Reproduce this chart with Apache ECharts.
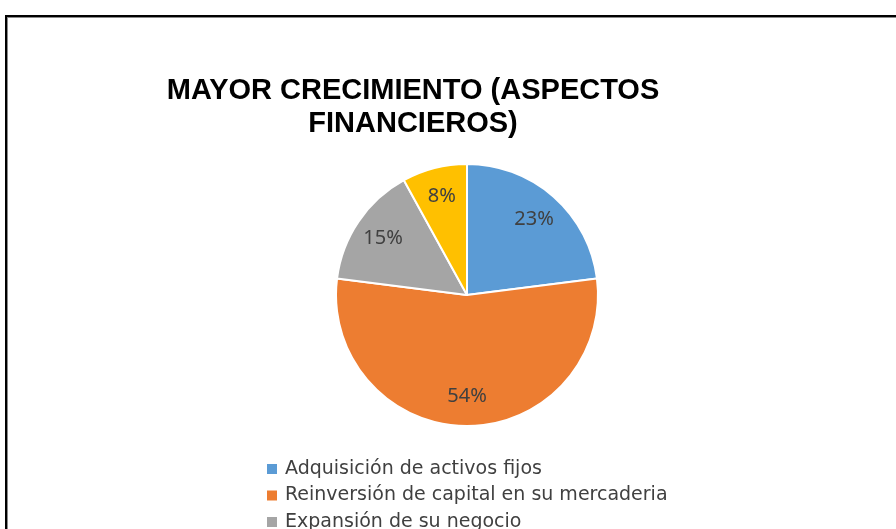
<!DOCTYPE html>
<html>
<head>
<meta charset="utf-8">
<script src="https://cdn.jsdelivr.net/npm/echarts@6/dist/echarts.min.js"></script>
<style>
  html, body { margin: 0; padding: 0; background: #fff; overflow: hidden; width: 896px; height: 529px; }
  #chart { position: absolute; left: 0; top: 0; width: 896px; height: 640px; }
  #frame {
    position: absolute; left: 5px; top: 15px; width: 1000px; height: 1000px;
    border: 2px solid #000; box-shadow: inset 1px 1px 0 0 #8a8a8a;
    pointer-events: none;
  }
</style>
</head>
<body>
<div id="chart"></div>
<div id="frame"></div>
<script>
// datos
const categorias = [
  'Adquisición de activos fijos',
  'Reinversión de capital en su mercaderia',
  'Expansión de su negocio',
  'Otros'
];
const porcentajes = [23, 54, 15, 8];
const colores = ['#5B9BD5', '#ED7D31', '#A5A5A5', '#FFC000'];

const datos = categorias.map((n, i) => ({ name: n, value: porcentajes[i] }));

const chart = echarts.init(document.getElementById('chart'));
const option = {
  animation: false,
  color: colores,
  title: {
    text: 'MAYOR CRECIMIENTO (ASPECTOS\nFINANCIEROS)',
    left: 408,
    textAlign: 'center',
    top: 69,
    textStyle: {
      fontFamily: 'Liberation Sans, Arial, sans-serif',
      fontWeight: 'bold',
      fontSize: 29,
      lineHeight: 33,
      color: '#000'
    }
  },
  legend: {
    orient: 'vertical',
    left: 262,
    top: 454,
    icon: 'rect',
    itemWidth: 10,
    itemHeight: 10,
    itemGap: 6.5,
    itemStyle: { borderWidth: 0 },
    data: categorias,
    textStyle: {
      fontFamily: 'DejaVu Sans, sans-serif',
      fontSize: 19,
      lineHeight: 20,
      color: '#404040',
      padding: [0, 0, 0, 3]
    }
  },
  series: [
    {
      // tarta visible
      type: 'pie',
      center: [467, 295],
      radius: 131,
      startAngle: 90,
      clockwise: true,
      data: datos,
      label: { show: false },
      labelLine: { show: false },
      itemStyle: { borderColor: '#fff', borderWidth: 2 },
      emphasis: { disabled: true }
    },
    {
      // capa transparente solo para colocar las etiquetas hacia el borde
      type: 'pie',
      center: [467, 295],
      radius: [66, 131],
      startAngle: 90,
      clockwise: true,
      silent: true,
      data: datos,
      itemStyle: { color: 'rgba(0,0,0,0)' },
      label: {
        show: true,
        position: 'inside',
        formatter: '{c}%',
        fontFamily: 'Noto Sans, sans-serif',
        fontSize: 20,
        color: '#404040'
      },
      labelLine: { show: false },
      emphasis: { disabled: true }
    }
  ]
};
chart.setOption(option);
</script>
</body>
</html>
